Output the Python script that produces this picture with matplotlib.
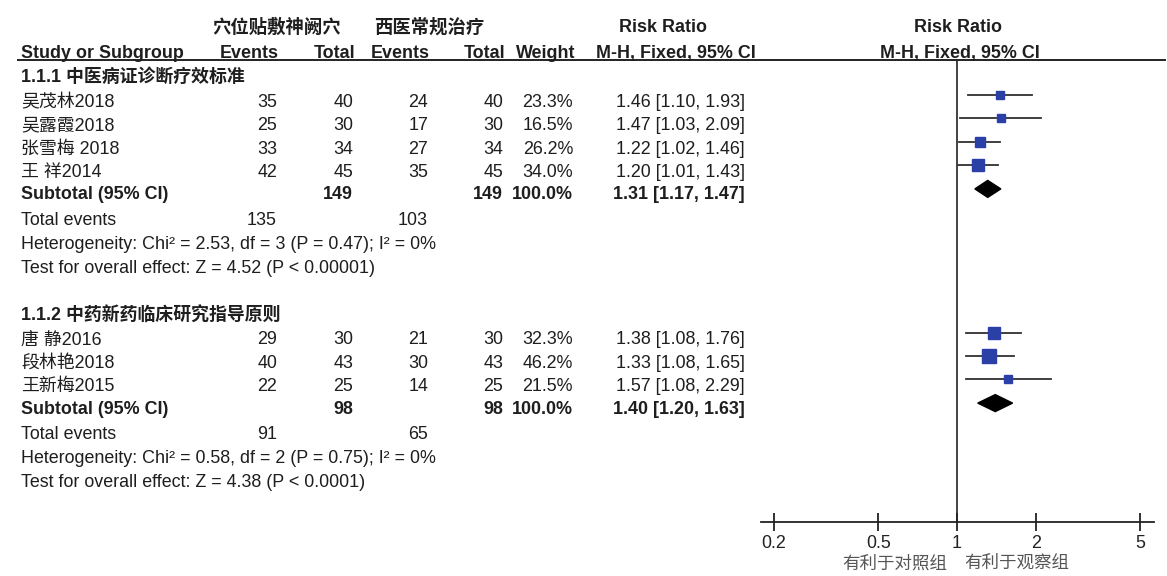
import matplotlib
matplotlib.use('Agg')
import matplotlib.pyplot as plt
from matplotlib.patches import Polygon

plt.rcParams['font.family'] = ['Liberation Sans', 'Noto Sans CJK SC']
plt.rcParams['text.color'] = '#1e1e1e'

# 1.1.1 subgroup
studies1 = ['吴茂林2018', '吴露霞2018', '张雪梅 2018', '王 祥2014']
ev_obs1 = [35, 25, 33, 42]
n_obs1 = [40, 30, 34, 45]
ev_ctl1 = [24, 17, 27, 35]
n_ctl1 = [40, 30, 34, 45]
weight1 = [23.3, 16.5, 26.2, 34.0]
rr1 = [1.46, 1.47, 1.22, 1.20]
lo1 = [1.10, 1.03, 1.02, 1.01]
hi1 = [1.93, 2.09, 1.46, 1.43]
sub1 = (1.31, 1.17, 1.47)
het1 = 'Heterogeneity: Chi² = 2.53, df = 3 (P = 0.47); I² = 0%'
test1 = 'Test for overall effect: Z = 4.52 (P < 0.00001)'

# 1.1.2 subgroup
studies2 = ['唐 静2016', '段林艳2018', '王新梅2015']
ev_obs2 = [29, 40, 22]
n_obs2 = [30, 43, 25]
ev_ctl2 = [21, 30, 14]
n_ctl2 = [30, 43, 25]
weight2 = [32.3, 46.2, 21.5]
rr2 = [1.38, 1.33, 1.57]
lo2 = [1.08, 1.08, 1.08]
hi2 = [1.76, 1.65, 2.29]
sub2 = (1.40, 1.20, 1.63)
het2 = 'Heterogeneity: Chi² = 0.58, df = 2 (P = 0.75); I² = 0%'
test2 = 'Test for overall effect: Z = 4.38 (P < 0.0001)'

ticks = [0.2, 0.5, 1, 2, 5]
tick_labels = ['0.2', '0.5', '1', '2', '5']

W, H = 1167, 576
fig = plt.figure(figsize=(W / 100, H / 100), dpi=100)
ax = fig.add_axes([0, 0, 1, 1])
ax.set_xlim(0, W)
ax.set_ylim(H, 0)
ax.axis('off')

fs = 12.9
col_x = [277, 353, 428, 503, 573, 745]  # right edges of number columns
sq_color = '#2a40a6'
line_col = '#222222'

# forest panel, y in the same pixel rows as the table
x0, x1, ytop, ybot = 760.5, 1153.5, 59, 522
fax = fig.add_axes([x0 / W, 1 - ybot / H, (x1 - x0) / W, (ybot - ytop) / H])
fax.set_xscale('log')
fax.set_xlim(10 ** -0.75, 10 ** 0.75)
fax.set_ylim(ybot, ytop)
fax.patch.set_visible(False)
for s in ['top', 'right', 'left']:
    fax.spines[s].set_visible(False)
fax.spines['bottom'].set_linewidth(1.3)
fax.spines['bottom'].set_color(line_col)
fax.set_yticks([])
fax.set_xticks(ticks)
fax.set_xticklabels(tick_labels, fontsize=fs)
fax.minorticks_off()
fax.tick_params(axis='x', direction='inout', length=13, width=1.3, pad=3, colors=line_col)
fax.axvline(1, color=line_col, lw=1.2)


def txt(x, y, s, ha='left', bold=False, **kw):
    ax.text(x, y, s, ha=ha, va='baseline', fontsize=fs,
            fontweight='bold' if bold else 'normal', **kw)


# header
ax.text(277, 33, '穴位贴敷神阙穴', ha='center', va='baseline', fontsize=13.2,
        fontweight='bold', family='Noto Sans CJK SC')
ax.text(429, 33, '西医常规治疗', ha='center', va='baseline', fontsize=13.2,
        fontweight='bold', family='Noto Sans CJK SC')
txt(663, 32, 'Risk Ratio', ha='center', bold=True)
txt(958, 32, 'Risk Ratio', ha='center', bold=True)
txt(21, 58, 'Study or Subgroup', bold=True)
for x, t in zip(col_x[:5], ['Events', 'Total', 'Events', 'Total', 'Weight']):
    txt(x + 2, 58, t, ha='right', bold=True)
txt(676, 58, 'M-H, Fixed, 95% CI', ha='center', bold=True)
txt(960, 58, 'M-H, Fixed, 95% CI', ha='center', bold=True)
ax.plot([18, 1165], [59.5, 59.5], color=line_col, lw=1.4)


def draw_group(title, yt, dy_first, names, e1, n1, e2, n2, w, rr, lo, hi, sub, het, test):
    txt(21, yt, title, bold=True)
    y = yt
    for i in range(len(names)):
        y = yt + dy_first + 23.3 * i
        txt(21, y, names[i])
        vals = [str(e1[i]), str(n1[i]), str(e2[i]), str(n2[i]), '%.1f%%' % w[i],
                '%.2f [%.2f, %.2f]' % (rr[i], lo[i], hi[i])]
        for x, v in zip(col_x, vals):
            txt(x, y, v, ha='right')
        ym = y - 12
        fax.plot([lo[i], hi[i]], [ym, ym], color='#303030', lw=1.3)
        side = 3 + 0.25 * w[i]
        fax.plot(rr[i], ym, marker='s', ms=side * 0.72, color=sq_color, mec=sq_color)
    y += 22.5
    txt(21, y, 'Subtotal (95% CI)', bold=True)
    svals = ['', str(sum(n1)), '', str(sum(n2)), '%.1f%%' % sum(w),
             '%.2f [%.2f, %.2f]' % sub]
    for x, v in zip(col_x, svals):
        if v:
            txt(x, y, v, ha='right', bold=True)
    ym = y - 10.5
    fax.add_patch(Polygon([(sub[1], ym), (sub[0], ym - 8.5), (sub[2], ym), (sub[0], ym + 8.5)],
                          closed=True, color='black'))
    y += 25.5
    txt(21, y, 'Total events')
    txt(col_x[0], y, str(sum(e1)), ha='right')
    txt(col_x[2], y, str(sum(e2)), ha='right')
    txt(21, y + 24, het)
    txt(21, y + 48, test)


draw_group('1.1.1 中医病证诊断疗效标准', 82, 25, studies1, ev_obs1, n_obs1, ev_ctl1, n_ctl1,
           weight1, rr1, lo1, hi1, sub1, het1, test1)
draw_group('1.1.2 中药新药临床研究指导原则', 321, 23.5, studies2, ev_obs2, n_obs2, ev_ctl2, n_ctl2,
           weight2, rr2, lo2, hi2, sub2, het2, test2)

ax.text(895, 563, '有利于对照组', ha='center', va='center', fontsize=12.6, color='#555555')
ax.text(1017, 563, '有利于观察组', ha='center', va='center', fontsize=12.6, color='#555555')

fig.savefig('out.png', dpi=100)
